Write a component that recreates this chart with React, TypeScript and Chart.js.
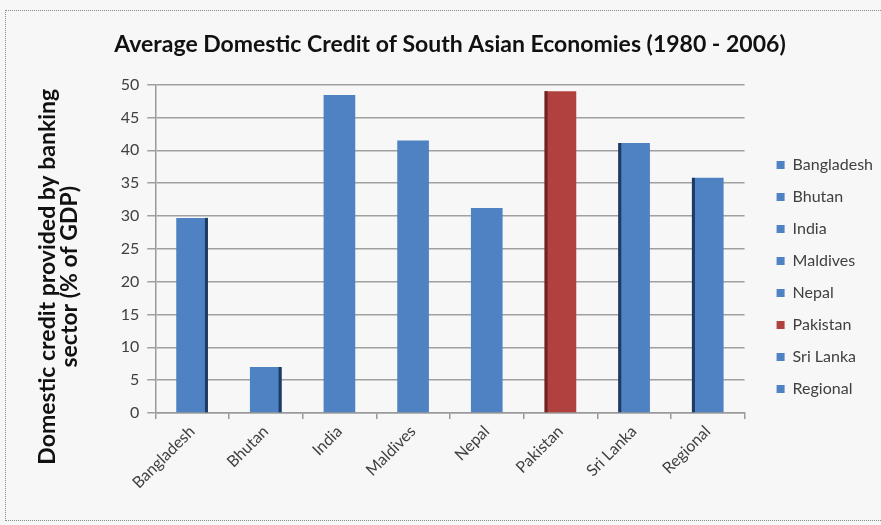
import React, { useEffect, useRef } from "react";
import { Chart, registerables } from "chart.js";

Chart.register(...registerables);

const categories = ["Bangladesh", "Bhutan", "India", "Maldives", "Nepal", "Pakistan", "Sri Lanka", "Regional"];
const creditValues = [29.7, 7.0, 48.4, 41.5, 31.2, 49.0, 41.1, 35.8];
const yTickValues = [0, 5, 10, 15, 20, 25, 30, 35, 40, 45, 50];

const chartTitle = "Average Domestic Credit of South Asian Economies (1980 - 2006)";
const yTitleLines = ["Domestic credit provided by banking", "sector (% of GDP)"];
// trailing spaces nudge the rotated title downward, as in the original
const yTitlePad = "          ";

const BLUE = "#4f82c2";
const RED = "#b0413e";
const barColors = categories.map((c) => (c === "Pakistan" ? RED : BLUE));
const sideColors = categories.map((c) => (c === "Pakistan" ? "#6e2422" : "#1f3a60"));
// -1: dark side on the left, 1: on the right, 0: none (3D perspective hint)
const sideDir = [1, 1, 0, 0, 0, -1, -1, -1];

const FONT = "Lato, 'Open Sans', 'Liberation Sans', sans-serif";

const sidePlugin = {
  id: "barSides",
  afterDatasetsDraw(chart: any) {
    const meta = chart.getDatasetMeta(0);
    const ctx = chart.ctx;
    meta.data.forEach((bar: any, i: number) => {
      const d = sideDir[i];
      if (!d) return;
      const { x, y, base, width } = bar.getProps(["x", "y", "base", "width"], true);
      const w = 3;
      const left = d > 0 ? x + width / 2 - w : x - width / 2;
      ctx.save();
      ctx.fillStyle = sideColors[i];
      ctx.fillRect(left, y, w, base - y);
      ctx.restore();
    });
  },
};

const legendShift = {
  id: "legendShift",
  afterLayout(chart: any) {
    if (chart.legend) {
      chart.legend.left += 16;
      chart.legend.right += 16;
    }
  },
};

export default function App() {
  const ref = useRef<HTMLCanvasElement | null>(null);

  useEffect(() => {
    if (!ref.current) return;
    const chart = new Chart(ref.current, {
      type: "bar",
      data: {
        labels: categories,
        datasets: [
          {
            label: "Domestic credit",
            data: creditValues,
            backgroundColor: barColors,
            borderWidth: 0,
            barPercentage: 0.43,
            categoryPercentage: 1,
          },
        ],
      },
      plugins: [sidePlugin, legendShift],
      options: {
        responsive: false,
        animation: false,
        layout: { padding: { left: 33, right: 14, top: 0, bottom: 32 } },
        plugins: {
          tooltip: { enabled: false },
          title: {
            display: true,
            text: chartTitle,
            color: "#111",
            font: { family: FONT, size: 23, weight: "bold" },
            padding: { top: 31, bottom: 26 },
          },
          legend: {
            display: true,
            position: "right",
            align: "end",
            fullSize: false,
            onClick: () => {},
            labels: {
              boxWidth: 8,
              boxHeight: 8,
              padding: 16,
              color: "#404040",
              font: { family: FONT, size: 16 },
              generateLabels: () =>
                categories.map((c, i) => ({
                  text: c,
                  fillStyle: barColors[i],
                  strokeStyle: barColors[i],
                  lineWidth: 0,
                  hidden: false,
                  index: i,
                  datasetIndex: 0,
                  fontColor: "#404040",
                })),
            },
          },
        },
        scales: {
          x: {
            offset: true,
            grid: {
              display: true,
              offset: true,
              drawOnChartArea: false,
              drawTicks: true,
              tickLength: 6,
              color: "#9a9a9a",
              lineWidth: 1.5,
            },
            border: { display: true, color: "#9a9a9a", width: 1.5 },
            ticks: {
              autoSkip: false,
              minRotation: 45,
              maxRotation: 45,
              padding: 3,
              color: "#404040",
              font: { family: FONT, size: 16 },
            },
            afterFit: (scale: any) => {
              scale.height = 80;
            },
          },
          y: {
            min: 0,
            max: 50,
            afterBuildTicks: (scale: any) => {
              scale.ticks = yTickValues.map((v) => ({ value: v }));
            },
            grid: {
              color: "#a0a0a0",
              lineWidth: 1.5,
              tickLength: 8,
            },
            border: { display: true, color: "#9a9a9a", width: 1.5 },
            ticks: {
              padding: 8,
              color: "#404040",
              font: { family: FONT, size: 16 },
            },
            title: {
              display: true,
              text: yTitleLines.map((l) => l + yTitlePad),
              color: "#111",
              font: { family: FONT, size: 23, weight: "bold", lineHeight: 0.95 },
              padding: { top: 4, bottom: 32 },
            },
          },
        },
      },
    });
    return () => chart.destroy();
  }, []);

  return (
    <div style={{ position: "absolute", left: 0, top: 0, width: 881, height: 525, background: "#f7f7f7", overflow: "hidden" }}>
      <div
        style={{
          position: "absolute",
          left: 5,
          top: 10,
          width: 890,
          height: 511,
          border: "1px dotted #8a8a8a",
          boxSizing: "border-box",
        }}
      />
      <canvas ref={ref} width={881} height={525} style={{ position: "absolute", left: 0, top: 0 }} />
    </div>
  );
}
